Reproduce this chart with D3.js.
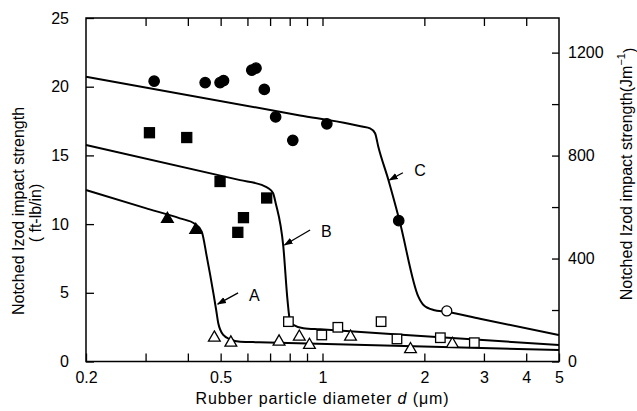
<!DOCTYPE html>
<html><head><meta charset="utf-8">
<script src="https://cdn.jsdelivr.net/npm/d3@7"></script>
<style>body{margin:0;background:#fff}svg{display:block}</style>
</head><body>
<svg id="chart" width="637" height="411"></svg>
<script>
// ---------- data ----------
const xTickValues = [0.2,0.3,0.4,0.5,0.6,0.7,0.8,0.9,1,2,3,4,5];
const xLabelled = [0.2,0.5,1,2,3,4,5];
const yLeftTicks = [0,5,10,15,20,25];
const yRightTicks = [0,200,400,600,800,1000,1200];
const yRightLabelled = [0,400,800,1200];

// series C (filled / open circles)
const circlesFilled = [[0.318,20.4],[0.450,20.3],[0.498,20.3],[0.510,20.45],[0.618,21.2],[0.636,21.35],[0.673,19.8],[0.727,17.8],[0.817,16.1],[1.03,17.3],[1.68,10.25]];
const circlesOpen = [[2.33,3.68]];
// series B (filled / open squares)
const squaresFilled = [[0.308,16.65],[0.397,16.3],[0.498,13.1],[0.562,9.4],[0.584,10.47],[0.684,11.9]];
const squaresOpen = [[0.793,2.9],[0.995,1.93],[1.11,2.49],[1.49,2.9],[1.66,1.64],[2.23,1.73],[2.81,1.37]];
// series A (filled / open triangles)
const trianglesFilled = [[0.348,10.37],[0.422,9.57]];
const trianglesOpen = [[0.479,1.73],[0.536,1.37],[0.744,1.44],[0.854,1.8],[0.915,1.2],[1.21,1.8],[1.82,0.89],[2.42,1.27]];

// fitted curves
const curveA = [[0.2,12.48],[0.3,11.16],[0.379,10.42],[0.42,10.01],[0.4396,9.45],[0.455,7.63],[0.476,4.96],[0.485,3.75],[0.492,2.78],[0.509,1.93],[0.533,1.62],[0.571,1.44],[0.65,1.40],[5,0.84]];
const curveB = [[0.2,15.76],[0.571,13.2],[0.661,12.85],[0.690,12.63],[0.714,12.26],[0.727,11.54],[0.766,8.36],[0.788,4.48],[0.799,3.17],[0.820,2.66],[0.878,2.42],[0.984,2.34],[5,1.2]];
const curveC = [[0.2,20.73],[0.858,17.91],[1.206,17.29],[1.309,17.10],[1.382,16.97],[1.43,16.61],[1.462,15.63],[1.566,13.21],[1.687,10.3],[1.92,4.72],[1.988,4.11],[2.128,3.75],[2.33,3.62],[2.92,3.11],[5,1.93]];

// curve labels: [name, labelD, labelY, arrowFromD, arrowFromY, arrowToD, arrowToY]
const curveLabels = [
  ["A",0.606,4.84,0.563,4.99,0.490,4.18],
  ["B",0.990,9.45,0.919,9.57,0.772,8.48],
  ["C",1.866,13.94,1.728,13.74,1.577,13.21]
];
const ftlbToJm = 53.38;

// ---------- chart ----------
const svg = d3.select("#chart");
const L = 86, R = 559, T = 18, B = 361.5;
const x = d3.scaleLog().domain([0.2,5]).range([L,R]);
const y = d3.scaleLinear().domain([0,25]).range([B,T]);
const y2 = d3.scaleLinear().domain([0,25*ftlbToJm]).range([B,T]);
const font = "'Liberation Sans', Arial, sans-serif";
const fmtX = d => xLabelled.includes(d) ? String(d) : "";

svg.append("defs").append("marker")
  .attr("id","arrow").attr("viewBox","0 0 10 10").attr("refX",9).attr("refY",5)
  .attr("markerWidth",7).attr("markerHeight",7).attr("orient","auto")
  .append("path").attr("d","M0,1.5L10,5L0,8.5Z").attr("fill","#000");

function styleAxis(g){
  g.select(".domain").remove();
  g.selectAll(".tick line").attr("stroke","#000").attr("stroke-width",1.3);
  g.selectAll("text").attr("font-family",font).attr("font-size",16).attr("fill","#000");
}

svg.append("g").attr("transform",`translate(0,${B})`)
  .call(d3.axisBottom(x).tickValues(xTickValues).tickFormat(fmtX).tickSizeInner(-8).tickSizeOuter(0).tickPadding(10))
  .call(styleAxis);
svg.append("g").attr("transform",`translate(0,${T})`)
  .call(d3.axisTop(x).tickValues(xTickValues.filter(d=>d>0.2&&d<5)).tickFormat("").tickSizeInner(-8).tickSizeOuter(0))
  .call(styleAxis);
svg.append("g").attr("transform",`translate(${L},0)`)
  .call(d3.axisLeft(y).tickValues(yLeftTicks).tickFormat(d3.format("d")).tickSizeInner(-8).tickSizeOuter(0).tickPadding(17))
  .call(styleAxis);
svg.append("g").attr("transform",`translate(${R},0)`)
  .call(d3.axisRight(y2).tickValues(yRightTicks).tickFormat(d => yRightLabelled.includes(d)?String(d):"").tickSizeInner(-7).tickSizeOuter(0).tickPadding(9))
  .call(styleAxis);

svg.append("rect").attr("x",L).attr("y",T).attr("width",R-L).attr("height",B-T)
  .attr("fill","none").attr("stroke","#000").attr("stroke-width",1.5);

// curves
const line = d3.line().x(d=>x(d[0])).y(d=>y(d[1])).curve(d3.curveMonotoneX);
[curveA,curveB,curveC].forEach(c=>{
  svg.append("path").attr("d",line(c)).attr("fill","none").attr("stroke","#000").attr("stroke-width",2);
});

// markers
const g = svg.append("g");
function circles(data, filled){
  g.selectAll(null).data(data).enter().append("circle")
   .attr("cx",d=>x(d[0])).attr("cy",d=>y(d[1])).attr("r",filled?5.2:5)
   .attr("fill",filled?"#000":"#fff").attr("stroke","#000").attr("stroke-width",1.3);
}
function squares(data, filled){
  const s = filled?10:9.5;
  g.selectAll(null).data(data).enter().append("rect")
   .attr("x",d=>x(d[0])-s/2).attr("y",d=>y(d[1])-s/2).attr("width",s).attr("height",s)
   .attr("fill",filled?"#000":"#fff").attr("stroke","#000").attr("stroke-width",1.3);
}
function triangles(data, filled){
  const sym = d3.symbol().type(d3.symbolTriangle).size(60);
  g.selectAll(null).data(data).enter().append("path")
   .attr("d",sym).attr("transform",d=>`translate(${x(d[0])},${y(d[1])})`)
   .attr("fill",filled?"#000":"#fff").attr("stroke","#000").attr("stroke-width",1.3);
}
circles(circlesFilled,true); circles(circlesOpen,false);
squares(squaresFilled,true); squares(squaresOpen,false);
triangles(trianglesFilled,true); triangles(trianglesOpen,false);

// curve labels with arrows
curveLabels.forEach(([n,ld,ly,fd,fy,td,ty])=>{
  svg.append("line").attr("x1",x(fd)).attr("y1",y(fy)).attr("x2",x(td)).attr("y2",y(ty))
    .attr("stroke","#000").attr("stroke-width",1.3).attr("marker-end","url(#arrow)");
  svg.append("text").attr("x",x(ld)).attr("y",y(ly)).attr("dy","0.35em")
    .attr("font-family",font).attr("font-size",16).text(n);
});

// axis titles
const xt = svg.append("text").attr("x",(L+R)/2).attr("y",404).attr("text-anchor","middle")
  .attr("font-family",font).attr("font-size",16).attr("letter-spacing",0.9);
xt.append("tspan").text("Rubber particle diameter ");
xt.append("tspan").attr("font-style","italic").text("d");
xt.append("tspan").text(" (\u03bcm)");

svg.append("text").attr("transform","translate(18,211) rotate(-90)")
  .attr("text-anchor","middle").attr("font-family",font).attr("font-size",16).attr("dominant-baseline","central")
  .text("Notched  Izod  impact  strength");
svg.append("text").attr("transform","translate(35,213) rotate(-90)")
  .attr("text-anchor","middle").attr("font-family",font).attr("font-size",16).attr("dominant-baseline","central")
  .text("( ft-lb/in)");

const rt = svg.append("text").attr("transform","translate(626,174) rotate(-90)")
  .attr("text-anchor","middle").attr("font-family",font).attr("font-size",16).attr("dominant-baseline","central");
rt.append("tspan").text("Notched  Izod  impact  strength(Jm");
rt.append("tspan").attr("dy","-0.5em").attr("font-size",11).text("\u22121");
rt.append("tspan").attr("dy","0.5em").text(")");
</script>
</body></html>
